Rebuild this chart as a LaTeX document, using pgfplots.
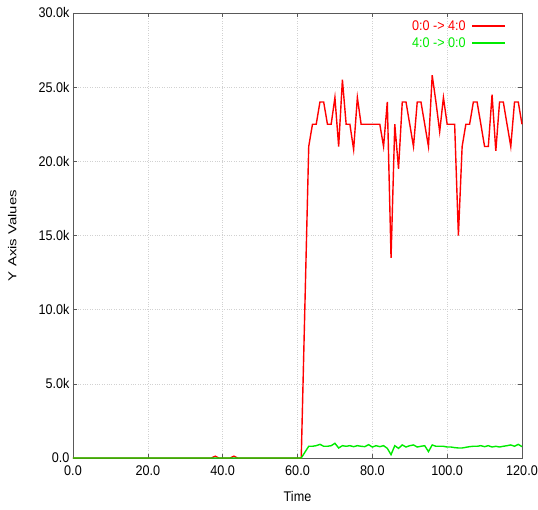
\documentclass[border=0pt]{standalone}
\usepackage{fontspec}
\setmainfont[FakeStretch=0.9]{Liberation Sans}
\newfontfamily\ylabfont[FakeStretch=1.3]{Liberation Sans}
\usepackage{pgfplots}
\pgfplotsset{compat=1.18}
\definecolor{myred}{RGB}{255,0,0}
\definecolor{mygreen}{RGB}{0,235,0}
\begin{document}
\begin{tikzpicture}
\begin{axis}[
 width=449pt, height=445pt, scale only axis,
 xmin=0, xmax=120, ymin=0, ymax=30000,
 xtick={0,20,40,60,80,100,120}, xticklabels={0.0,20.0,40.0,60.0,80.0,100.0,120.0},
 ytick={0,5000,10000,15000,20000,25000,30000}, yticklabels={0.0,5.0k,10.0k,15.0k,20.0k,25.0k,30.0k},
 scaled y ticks=false,
 tick align=inside, major tick length=4pt,
 axis line style={draw=black!65, line width=0.8pt},
 every tick/.style={black!65, line width=0.6pt},
 grid=major, grid style={dotted, black!18, line width=0.5pt},
 ticklabel style={font=\fontsize{14}{16}\selectfont},
 xticklabel style={yshift=-4pt},
 xlabel={Time}, ylabel={\ylabfont\fontsize{11.5}{13}\selectfont Y Axis Values},
 xlabel style={font=\fontsize{14}{16}\selectfont, at={(axis description cs:0.5,-0.0876)}, anchor=center},
 ylabel style={at={(axis description cs:-0.135,0.5)}, anchor=center},
 clip=false,
 legend style={draw=none, fill=none, at={(0.972,0.993)}, anchor=north east, font=\fontsize{14}{16}\selectfont, legend cell align=right, row sep=1.8pt, /tikz/column sep=4pt},
 legend plot pos=right,
 legend image code/.code={\draw[#1, line width=1.5pt] (0pt,0pt) -- (33pt,0pt);},
]
\addplot[myred, line width=1.4pt] coordinates {
(0,0) (37,0) (38,120) (39,0) (42,0) (43,120) (44,0) (61,0) (63,21000) (64,22500) (65,22500) (66,24000) (67,24000) (68,22500) (69,22500) (70,24300) (71,21000) (72,25500) (73,22500) (74,22500) (75,20800) (76,24300) (77,22500) (78,22500) (79,22500) (80,22500) (81,22500) (82,22500) (83,21000) (84,24000) (85,13500) (86,22500) (87,19500) (88,24000) (89,24000) (90,22500) (91,21000) (92,24000) (93,24000) (94,22500) (95,21000) (96,25800) (97,24000) (98,22000) (99,24300) (100,22500) (101,22500) (102,22500) (103,15000) (104,21000) (105,22500) (106,22500) (107,24000) (108,24000) (109,22500) (110,21000) (111,21000) (112,24500) (113,20700) (114,24000) (115,24000) (116,22500) (117,21000) (118,24000) (119,24000) (120,22500)
};
\addlegendentry{\textcolor{myred}{0:0 -> 4:0}}
\addplot[mygreen, line width=1.4pt] coordinates {
(0,0) (61,0) (63,790) (64,790) (65,830) (66,920) (67,790) (68,790) (69,830) (70,990) (71,675) (72,830) (73,790) (74,830) (75,765) (76,830) (77,790) (78,765) (79,900) (80,740) (81,830) (82,765) (83,830) (84,650) (85,225) (86,830) (87,650) (88,880) (89,740) (90,830) (91,880) (92,740) (93,790) (94,830) (95,430) (96,880) (97,790) (98,790) (99,790) (100,740) (101,740) (102,700) (103,675) (104,675) (105,720) (106,765) (107,790) (108,790) (109,830) (110,765) (111,830) (112,740) (113,790) (114,740) (115,790) (116,830) (117,880) (118,790) (119,920) (120,765)
};
\addlegendentry{\textcolor{mygreen}{4:0 -> 0:0}}
\end{axis}
\pgfresetboundingbox
\path ([shift={(-73pt,-52pt)}]current axis.south west) rectangle ([shift={(16pt,13pt)}]current axis.north east);
\end{tikzpicture}
\end{document}
